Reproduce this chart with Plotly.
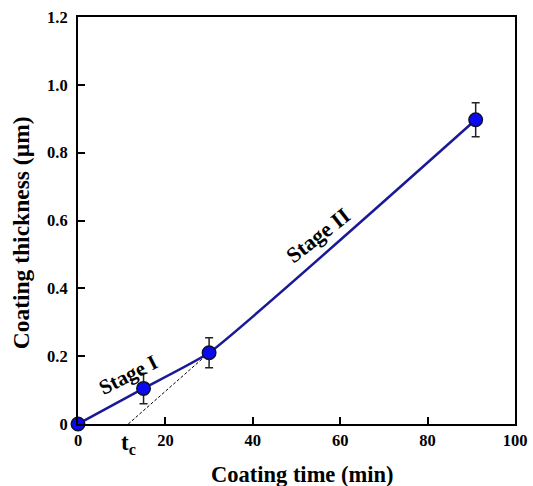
import plotly.graph_objects as go

time_min = [0, 15, 30, 91]
thickness_um = [0.0, 0.105, 0.21, 0.897]
error_um = [0.0, 0.045, 0.044, 0.05]

tc_line_x = [11.5, 30]
tc_line_y = [0.0, 0.21]

x_ticks = [0, 20, 40, 60, 80, 100]
y_ticks = [0, 0.2, 0.4, 0.6, 0.8, 1.0, 1.2]
y_tick_text = ["0", "0.2", "0.4", "0.6", "0.8", "1.0", "1.2"]

FONT = "Liberation Serif"

fig = go.Figure()
fig.add_trace(go.Scatter(
    x=tc_line_x, y=tc_line_y, mode="lines",
    line=dict(color="black", width=1, dash="3px,2px"),
    showlegend=False, hoverinfo="skip"))
fig.add_trace(go.Scatter(
    x=time_min, y=thickness_um, mode="lines+markers",
    line=dict(color="#1a1a96", width=2.5, shape="spline", smoothing=0.4),
    marker=dict(size=13.5, color="#0a0af0", line=dict(color="#101030", width=1.5)),
    error_y=dict(type="data", array=error_um, visible=True,
                 color="#222222", thickness=1.5, width=4),
    showlegend=False, cliponaxis=False))

fig.add_annotation(x=11.4, y=0.145, text="<b>Stage I</b>", showarrow=False,
                   textangle=-27, font=dict(family=FONT, size=21, color="black"))
fig.add_annotation(x=54.9, y=0.556, text="<b>Stage II</b>", showarrow=False,
                   textangle=-38, font=dict(family=FONT, size=22, color="black"))
fig.add_annotation(x=11.5, y=0, yshift=-20, text="<b>t<sub>c</sub></b>", showarrow=False,
                   font=dict(family=FONT, size=23, color="black"))

# axis titles
fig.add_annotation(xref="paper", yref="paper", x=0.513, y=-0.123,
                   text="<b>Coating time (min)</b>", showarrow=False,
                   xanchor="center", yanchor="middle",
                   font=dict(family=FONT, size=22.5, color="black"))
fig.add_annotation(xref="paper", yref="paper", x=-0.130, y=0.469,
                   text="<b>Coating thickness (µm)</b>", showarrow=False, textangle=-90,
                   xanchor="center", yanchor="middle",
                   font=dict(family=FONT, size=23.5, color="black"))

fig.update_xaxes(
    range=[0, 100], tickvals=x_ticks, ticks="inside", ticklen=7, tickwidth=1.5,
    tickcolor="black", showline=True, linecolor="black", linewidth=2, mirror=True,
    showgrid=False, zeroline=False, automargin=False,
    tickfont=dict(family=FONT, size=16.5, color="black", weight="bold"))
fig.update_yaxes(
    range=[0, 1.2], tickvals=y_ticks, ticktext=y_tick_text, ticks="inside", ticklen=7,
    tickwidth=1.5, tickcolor="black", showline=True, linecolor="black", linewidth=2,
    mirror=True, showgrid=False, zeroline=False, automargin=False, ticklabelstandoff=5,
    tickfont=dict(family=FONT, size=16.5, color="black", weight="bold"))

fig.update_layout(
    width=533, height=486, margin=dict(l=78, r=18, t=17, b=62),
    plot_bgcolor="white", paper_bgcolor="white")

fig.write_html("out.html", config={"displayModeBar": False},
               post_script="document.body.style.margin='0';document.body.style.overflow='hidden';")
